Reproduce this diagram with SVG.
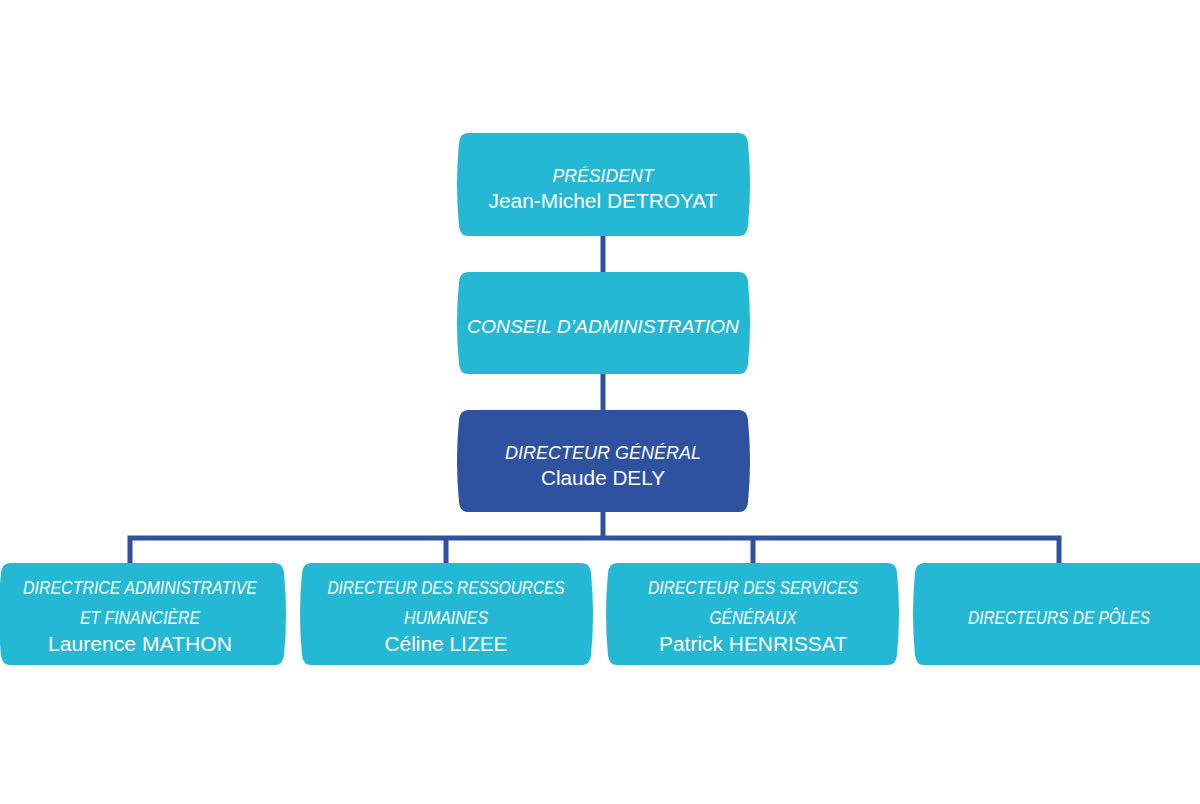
<svg xmlns="http://www.w3.org/2000/svg" width="1200" height="804" viewBox="0 0 1200 804">
<style>
.box{fill:#25B8D4}
.dark{fill:#2E52A0}
.t{font-family:"Liberation Sans",Arial,sans-serif;font-style:italic;font-size:18px;fill:#fff;text-anchor:middle}
.n{font-family:"Liberation Sans",Arial,sans-serif;font-size:20px;fill:#fff;text-anchor:middle}
.c{stroke:#2E52A0;stroke-width:5;fill:none}
</style>
<rect width="1200" height="804" fill="#fff"/>
<g id="connectors">
<line class="c" x1="603" y1="236" x2="603" y2="272"/>
<line class="c" x1="603" y1="374" x2="603" y2="410"/>
<line class="c" x1="603" y1="512" x2="603" y2="538"/>
<polyline class="c" points="130,563 130,538 1059,538 1059,563"/>
<line class="c" x1="446" y1="538" x2="446" y2="563"/>
<line class="c" x1="753" y1="538" x2="753" y2="563"/>
</g>
<g id="president">
<path class="box" d="M468 133 H739 Q747 133 748 143 Q752 184 748 226 Q747 236 739 236 H468 Q460 236 459 226 Q455 184 459 143 Q460 133 468 133 Z"/>
<text class="t" x="603" y="182" textLength="101" lengthAdjust="spacingAndGlyphs">PRÉSIDENT</text>
<text class="n" x="603" y="208" textLength="229" lengthAdjust="spacingAndGlyphs">Jean-Michel DETROYAT</text>
</g>
<g id="conseil">
<path class="box" d="M468 272 H739 Q747 272 748 282 Q752 323 748 364 Q747 374 739 374 H468 Q460 374 459 364 Q455 323 459 282 Q460 272 468 272 Z"/>
<text class="t" x="603" y="333" textLength="272" lengthAdjust="spacingAndGlyphs">CONSEIL D’ADMINISTRATION</text>
</g>
<g id="directeur-general">
<path class="dark" d="M468 410 H739 Q747 410 748 420 Q752 461 748 502 Q747 512 739 512 H468 Q460 512 459 502 Q455 461 459 420 Q460 410 468 410 Z"/>
<text class="t" x="603" y="459" textLength="196" lengthAdjust="spacingAndGlyphs">DIRECTEUR GÉNÉRAL</text>
<text class="n" x="603" y="485" textLength="124" lengthAdjust="spacingAndGlyphs">Claude DELY</text>
</g>
<g id="daf">
<path class="box" d="M10 563 H275 Q283 563 284 573 Q288 614 284 655 Q283 665 275 665 H10 Q2 665 1 655 Q-3 614 1 573 Q2 563 10 563 Z"/>
<text class="t" x="140" y="594" textLength="234" lengthAdjust="spacingAndGlyphs">DIRECTRICE ADMINISTRATIVE</text>
<text class="t" x="140" y="624" textLength="120" lengthAdjust="spacingAndGlyphs">ET FINANCIÈRE</text>
<text class="n" x="140" y="651" textLength="184" lengthAdjust="spacingAndGlyphs">Laurence MATHON</text>
</g>
<g id="drh">
<path class="box" d="M311 563 H582 Q590 563 591 573 Q595 614 591 655 Q590 665 582 665 H311 Q303 665 302 655 Q298 614 302 573 Q303 563 311 563 Z"/>
<text class="t" x="446" y="594" textLength="237" lengthAdjust="spacingAndGlyphs">DIRECTEUR DES RESSOURCES</text>
<text class="t" x="446" y="624" textLength="84" lengthAdjust="spacingAndGlyphs">HUMAINES</text>
<text class="n" x="446" y="651" textLength="123" lengthAdjust="spacingAndGlyphs">Céline LIZEE</text>
</g>
<g id="dsg">
<path class="box" d="M617 563 H888 Q896 563 897 573 Q901 614 897 655 Q896 665 888 665 H617 Q609 665 608 655 Q604 614 608 573 Q609 563 617 563 Z"/>
<text class="t" x="753" y="594" textLength="210" lengthAdjust="spacingAndGlyphs">DIRECTEUR DES SERVICES</text>
<text class="t" x="753" y="624" textLength="87" lengthAdjust="spacingAndGlyphs">GÉNÉRAUX</text>
<text class="n" x="753" y="651" textLength="188" lengthAdjust="spacingAndGlyphs">Patrick HENRISSAT</text>
</g>
<g id="poles">
<path class="box" d="M924 563 H1200 V665 H924 Q916 665 915 655 Q911 614 915 573 Q916 563 924 563 Z"/>
<text class="t" x="1059" y="624" textLength="182" lengthAdjust="spacingAndGlyphs">DIRECTEURS DE PÔLES</text>
</g>
</svg>
